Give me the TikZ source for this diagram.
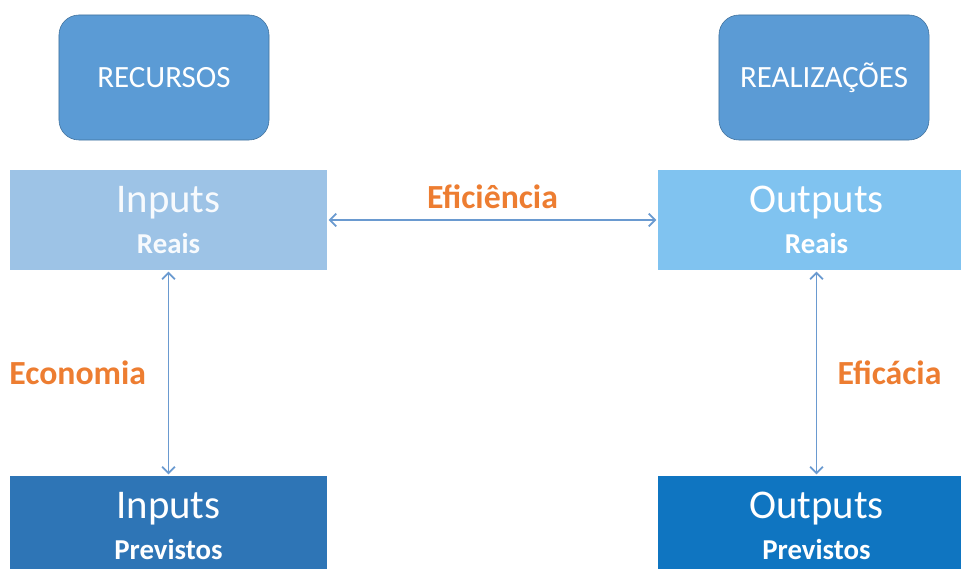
\documentclass[tikz,border=0pt]{standalone}
\usepackage{fontspec}
\setmainfont{Carlito}
\usetikzlibrary{arrows.meta}

\definecolor{topblue}{HTML}{5B9BD5}
\definecolor{topedge}{HTML}{41719C}
\definecolor{inreal}{HTML}{9DC3E6}
\definecolor{outreal}{HTML}{80C3F0}
\definecolor{inprev}{HTML}{2E75B6}
\definecolor{outprev}{HTML}{0F75C1}
\definecolor{linkblue}{HTML}{6A9AD0}
\definecolor{labelorange}{HTML}{ED7D31}

\tikzset{
	topbox/.style={draw=topedge, line width=0.4pt, fill=topblue, rounded corners=5mm,
		minimum width=5.25cm, minimum height=3.125cm, text=white, font=\fontsize{22}{24}\selectfont},
	levelbox/.style={fill=#1, minimum width=7.925cm, minimum height=2.5cm, inner sep=0pt,
		text=white, align=center},
	link/.style={draw=linkblue, line width=1.2pt, {Straight Barb[length=1.6mm,width=3.2mm]}-{Straight Barb[length=1.6mm,width=3.2mm]}, shorten <=1pt, shorten >=1pt},
	measure/.style={text=labelorange, font=\fontsize{24}{26}\selectfont\bfseries}
}
\newcommand{\bignm}[1]{{\fontsize{29}{31}\selectfont #1}}
\newcommand{\smallnm}[1]{{\fontsize{20.5}{22}\selectfont\bfseries #1}}

\begin{document}
\begin{tikzpicture}[x=0.025cm, y=-0.025cm]
		%%%%% START %%%%%
		\useasboundingbox (0, 0) rectangle (961, 569);
		\clip (0, 0) rectangle (961, 569);
		
		\node[topbox] (recursos) at (164, 77.5) {RECURSOS};
		\node[topbox] (realizacoes) at (824, 77.5) {REALIZAÇÕES};
		
		\node[levelbox=inreal, text=white!92!inreal] (inReal) at (168.5, 220) {\bignm{Inputs}\\[9pt]\smallnm{Reais}};
		\node[levelbox=outreal] (outReal) at (816.5, 220) {\bignm{Outputs}\\[9pt]\smallnm{Reais}};
		
		\node[levelbox=inprev] (inPrev) at (168.5, 526) {\bignm{Inputs}\\[9pt]\smallnm{Previstos}};
		\node[levelbox=outprev] (outPrev) at (816.5, 526) {\bignm{Outputs}\\[9pt]\smallnm{Previstos}};
		
		\draw[link] (inReal.east) -- node[measure, above=4pt] (eficiencia) {Eficiência} (outReal.west);
		\draw[link] (inReal.south) -- node[measure, left=12pt] (economia) {Economia} (inPrev.north);
		\draw[link] (outReal.south) -- node[measure, right=11pt] (eficacia) {Eficácia} (outPrev.north);
		%%%%% END %%%%%
	\end{tikzpicture}
\end{document}
